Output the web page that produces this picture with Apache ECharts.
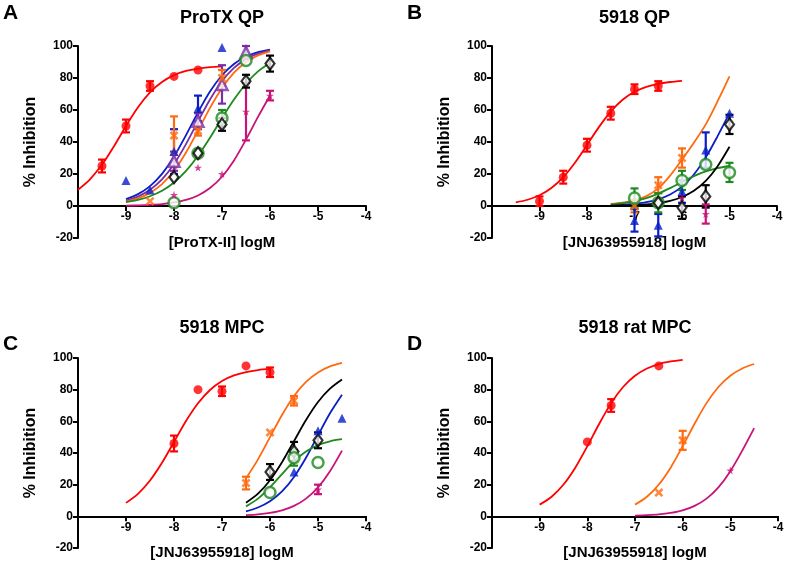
<!DOCTYPE html>
<html><head><meta charset="utf-8">
<script src="https://cdn.jsdelivr.net/npm/echarts@6/dist/echarts.min.js"></script>
<style>html,body{margin:0;padding:0;background:#fff}#c{width:787px;height:565px}</style>
</head><body><div id="c"></div>
<script>
// ---------- Panel A: ProTX QP ----------  points: [logM, %inhibition, error]
const A_red     = [[-9.5,25,4],[-9,50,4],[-8.5,75,3],[-8,81,0],[-7.5,85,0]];
const A_blue    = [[-9,16,0],[-8.5,10,0],[-8,34,14],[-7.5,61,8],[-7,99,0]];
const A_purple  = [[-8,28,6],[-7.5,53,5],[-7,76,12],[-6.5,96,4]];
const A_orange  = [[-8.5,3,0],[-8,44,12],[-7.5,47,3],[-7,80,5]];
const A_green   = [[-8,2,0],[-7.5,33,0],[-7,55,5],[-6.5,91,0]];
const A_black   = [[-8,18,0],[-7.5,33,0],[-7,51,4],[-6.5,78,4],[-6,89,5]];
const A_magenta = [[-8,7,0],[-7.5,24,0],[-7,20,0],[-6.5,59,18],[-6,69,3]];
const A_redFitX = [-10,-9.75,-9.5,-9.25,-9,-8.75,-8.5,-8.25,-8,-7.75,-7.5,-7.25,-7];
const A_redFit  = [10.2,16.7,25.9,37.4,50.0,61.7,71.0,77.5,81.8,84.4,85.9,86.8,87.3];
const A_fitX    = [-9,-8.75,-8.5,-8.25,-8,-7.75,-7.5,-7.25,-7,-6.75,-6.5,-6.25,-6];
const A_blueFit    = [4.3,7.4,12.4,20.1,30.9,44.3,58.5,71.5,81.7,88.8,93.4,96.2,97.8];
const A_purpleFit  = [3.4,5.9,10.1,16.6,26.2,38.7,52.9,66.6,78.0,86.3,91.8,95.2,97.3];
const A_orangeFit  = [2.7,4.8,8.2,13.7,22.0,33.4,47.1,61.3,73.8,83.4,89.9,94.1,96.6];
const A_greenFit   = [2.4,3.8,6.1,9.5,14.7,21.9,31.4,42.7,54.9,66.5,76.4,84.1,89.6];
const A_magentaFit = [0.2,0.4,0.7,1.2,2.2,3.8,6.6,11.2,18.3,28.5,41.5,55.7,69.1];

// ---------- Panel B: 5918 QP ----------
const B_red     = [[-9,3,3],[-8.5,18,4],[-8,38,4],[-7.5,58,4],[-7,73,3],[-6.5,75,3]];
const B_orange  = [[-7,0,4],[-6.5,13,5],[-6,30,6]];
const B_blue    = [[-7,-9,7],[-6.5,-12,7],[-6,9,7],[-5.5,35,11],[-5,58,0]];
const B_green   = [[-7,5,6],[-6.5,2,6],[-6,16,6],[-5.5,26,0],[-5,21,6]];
const B_black   = [[-6.5,2,0],[-6,-1,7],[-5.5,6,7],[-5,51,6]];
const B_magenta = [[-6,5,0],[-5.5,-5,6]];
const B_redFitX = [-9.5,-9.25,-9,-8.75,-8.5,-8.25,-8,-7.75,-7.5,-7.25,-7,-6.75,-6.5,-6.25,-6];
const B_redFit  = [2.3,3.9,6.7,11.2,18.0,27.2,38.1,49.3,59.0,66.4,71.4,74.5,76.4,77.5,78.2];
const B_fitX    = [-7.5,-7.25,-7,-6.75,-6.5,-6.25,-6,-5.75,-5.5,-5.25,-5];
const B_orangeFit = [1.3,2.1,3.5,6.2,11,19,29,39.5,51,65.5,81];
const B_blueFit   = [0.4,0.8,1.4,2.4,4.2,7.2,12.1,19.7,30.4,43.7,58.0];
const B_greenFit  = [1.0,1.8,3.0,4.9,7.7,11.2,15.0,18.7,21.6,23.7,25.0];
const B_blackFit  = [0.2,0.3,0.6,1.0,1.8,3.2,5.6,9.5,15.7,24.9,37.0];

// ---------- Panel C: 5918 MPC ----------
const C_red     = [[-8,46,5],[-7.5,80,0],[-7,79,3],[-6.5,95,0],[-6,91,3]];
const C_orange  = [[-6.5,21,4],[-6,53,0],[-5.5,73,3]];
const C_black   = [[-6,28,5],[-5.5,41,6],[-5,48,5]];
const C_blue    = [[-5.5,28,0],[-5,54,0],[-4.5,62,0]];
const C_green   = [[-6,15,0],[-5.5,37,5],[-5,34,0]];
const C_magenta = [[-5,17,3]];
const C_redFitX = [-9,-8.75,-8.5,-8.25,-8,-7.75,-7.5,-7.25,-7,-6.75,-6.5,-6.25,-6];
const C_redFit  = [8.5,14.2,22.6,33.8,47.0,60.2,71.4,79.8,85.5,89.0,91.1,92.4,93.1];
const C_fitX    = [-6.5,-6.25,-6,-5.75,-5.5,-5.25,-5,-4.75,-4.5];
const C_orangeFit  = [24.0,36.0,50.0,64.0,76.0,84.9,90.9,94.7,96.9];
const C_blackFit   = [8.6,14.3,22.8,34.2,47.5,60.8,72.2,80.6,86.4];
const C_blueFit    = [3.2,5.6,9.5,15.7,24.9,37.0,51.2,65.1,76.8];
const C_greenFit   = [6.3,11.2,18.3,26.7,34.8,41.0,45.0,47.4,48.7];
const C_magentaFit = [0.7,1.2,2.2,3.8,6.6,11.2,18.3,28.5,41.5];

// ---------- Panel D: 5918 rat MPC ----------
const D_red     = [[-8,47,0],[-7.5,70,4],[-6.5,95,0]];
const D_orange  = [[-6.5,15,0],[-6,48,6]];
const D_magenta = [[-5,29,0]];
const D_redFitX = [-9,-8.75,-8.5,-8.25,-8,-7.75,-7.5,-7.25,-7,-6.75,-6.5,-6.25,-6];
const D_redFit  = [7.4,12.4,20.1,30.9,44.3,58.5,71.5,81.7,88.8,93.4,96.2,97.8,98.8];
const D_fitX    = [-7,-6.75,-6.5,-6.25,-6,-5.75,-5.5,-5.25,-5,-4.75,-4.5];
const D_orangeFit  = [7.4,12.4,20.1,30.9,44.3,58.5,71.5,81.7,88.8,93.4,96.2];
const D_magentaFit = [0.4,0.7,1.2,2.2,3.8,6.6,11.2,18.3,28.5,41.5,55.7];

// axis ticks
const X_MIN = -10, X_MAX = -4, X_STEP = 1;
const Y_MIN = -20, Y_MAX = 100, Y_STEP = 20;

// ---------- styling ----------
const FONT = "'Liberation Sans', Arial, sans-serif";
const COL = {red:'#ff0000', orange:'#ff6a10', blue:'#0a1ec8', purple:'#7a2ea6', green:'#1e8a1e', black:'#000000', magenta:'#c81478'};
const XPATH = 'path://M0,2 L2,0 L5,3 L8,0 L10,2 L7,5 L10,8 L8,10 L5,7 L2,10 L0,8 L3,5 Z';
const STAR = 'path://M50,0 L61,35 L98,35 L68,57 L79,91 L50,70 L21,91 L32,57 L2,35 L39,35 Z';
const MARK = {
  red:    {symbol:'circle', size:9, hollow:false},
  orange: {symbol:XPATH, size:9, hollow:false},
  blue:   {symbol:'triangle', size:9, hollow:false},
  purple: {symbol:'triangle', size:11, hollow:true, bw:2.5},
  green:  {symbol:'circle', size:11, hollow:true, bw:2.5},
  black:  {symbol:'diamond', size:[9,12], hollow:true, bw:2.2},
  magenta:{symbol:STAR, size:8, hollow:false}
};

const panels = [
  {title:'ProTX QP', letter:'A', xName:'[ProTX-II] logM', grid:{left:78, top:46, width:288, height:192},
   sets:[['red',A_red,A_redFitX,A_redFit],['blue',A_blue,A_fitX,A_blueFit],['purple',A_purple,A_fitX,A_purpleFit],
         ['orange',A_orange,A_fitX,A_orangeFit],['green',A_green,A_fitX,A_greenFit],['magenta',A_magenta,A_fitX,A_magentaFit],
         ['black',A_black,null,null]]},
  {title:'5918 QP', letter:'B', xName:'[JNJ63955918] logM', grid:{left:492, top:46, width:285, height:192},
   sets:[['red',B_red,B_redFitX,B_redFit],['orange',B_orange,B_fitX,B_orangeFit],['blue',B_blue,B_fitX,B_blueFit],
         ['green',B_green,B_fitX,B_greenFit],['black',B_black,B_fitX,B_blackFit],['magenta',B_magenta,null,null]]},
  {title:'5918 MPC', letter:'C', xName:'[JNJ63955918] logM', grid:{left:78, top:358, width:288, height:190},
   sets:[['red',C_red,C_redFitX,C_redFit],['orange',C_orange,C_fitX,C_orangeFit],['black',C_black,C_fitX,C_blackFit],
         ['blue',C_blue,C_fitX,C_blueFit],['green',C_green,C_fitX,C_greenFit],['magenta',C_magenta,C_fitX,C_magentaFit]]},
  {title:'5918 rat MPC', letter:'D', xName:'[JNJ63955918] logM', grid:{left:492, top:358, width:286, height:190},
   sets:[['red',D_red,D_redFitX,D_redFit],['orange',D_orange,D_fitX,D_orangeFit],['magenta',D_magenta,D_fitX,D_magentaFit]]}
];

const grids = [], xAxes = [], yAxes = [], series = [], graphics = [];
const labelStyle = {color:'#000', fontWeight:'bold', fontSize:12, fontFamily:FONT};

panels.forEach((p, i) => {
  grids.push(Object.assign({containLabel:false}, p.grid));
  // the x axis sits on y = 0: shift it up from the grid bottom by the height of the negative band
  const zeroOffset = -p.grid.height * (0 - Y_MIN) / (Y_MAX - Y_MIN);
  xAxes.push({type:'value', gridIndex:i, min:X_MIN, max:X_MAX, interval:X_STEP,
    position:'bottom', offset:zeroOffset,
    axisLine:{show:true, onZero:false, lineStyle:{color:'#000', width:2}},
    axisTick:{show:true, length:5, lineStyle:{color:'#000', width:2}},
    axisLabel:Object.assign({margin:5, formatter:v => v === X_MIN ? '' : String(v)}, labelStyle),
    splitLine:{show:false},
    name:p.xName, nameLocation:'middle', nameGap:29,
    nameTextStyle:{color:'#000', fontWeight:'bold', fontSize:15, fontFamily:FONT}});
  yAxes.push({type:'value', gridIndex:i, min:Y_MIN, max:Y_MAX, interval:Y_STEP,
    position:'left',
    axisLine:{show:true, lineStyle:{color:'#000', width:2}},
    axisTick:{show:true, length:5, lineStyle:{color:'#000', width:2}},
    axisLabel:Object.assign({margin:5}, labelStyle),
    splitLine:{show:false},
    name:'% Inhibition', nameLocation:'middle', nameGap:39, nameRotate:90,
    nameTextStyle:{color:'#000', fontWeight:'bold', fontSize:16, fontFamily:FONT}});
  const cx = p.grid.left + p.grid.width / 2;
  const tTop = i < 2 ? 9 : 319;
  graphics.push({type:'text', x:cx, y:tTop, style:{text:p.title, fill:'#000', font:'bold 18px ' + FONT, textAlign:'center', textVerticalAlign:'top', verticalAlign:'top'}});
  const lx = i % 2 === 0 ? 3 : 407;
  const ly = i < 2 ? 3 : 334;
  graphics.push({type:'text', x:lx, y:ly, style:{text:p.letter, fill:'#000', font:'bold 21px ' + FONT, textAlign:'left', textVerticalAlign:'top', verticalAlign:'top'}});

  p.sets.forEach(([key, pts, fx, fy]) => {
    const c = COL[key], m = MARK[key];
    if (fx) {
      series.push({type:'line', xAxisIndex:i, yAxisIndex:i, data:fx.map((x, k) => [x, fy[k]]),
        showSymbol:false, smooth:0.3, lineStyle:{color:c, width:1.8}, z:2, silent:true});
    }
    series.push({type:'custom', xAxisIndex:i, yAxisIndex:i, data:pts, z:3, silent:true,
      encode:{x:0, y:1},
      renderItem:(params, api) => {
        const x = api.value(0), y = api.value(1), e = api.value(2);
        if (!e) return null;
        const t = api.coord([x, y + e]), b = api.coord([x, y - e]);
        const w = 4, st = {stroke:c, lineWidth:2.2};
        return {type:'group', children:[
          {type:'line', shape:{x1:t[0], y1:t[1], x2:b[0], y2:b[1]}, style:st},
          {type:'line', shape:{x1:t[0]-w, y1:t[1], x2:t[0]+w, y2:t[1]}, style:st},
          {type:'line', shape:{x1:b[0]-w, y1:b[1], x2:b[0]+w, y2:b[1]}, style:st}
        ]};
      }});
    series.push({type:'scatter', xAxisIndex:i, yAxisIndex:i, data:pts.map(d => [d[0], d[1]]),
      symbol:m.symbol, symbolSize:m.size, z:4, silent:true,
      itemStyle: m.hollow ? {color:'#ffffff', borderColor:c, borderWidth:m.bw} : {color:c}});
  });
});

const chart = echarts.init(document.getElementById('c'), null, {renderer:'canvas'});
chart.setOption({animation:false, backgroundColor:'#fff', grid:grids, xAxis:xAxes, yAxis:yAxes, series:series, graphic:graphics});
</script></body></html>
